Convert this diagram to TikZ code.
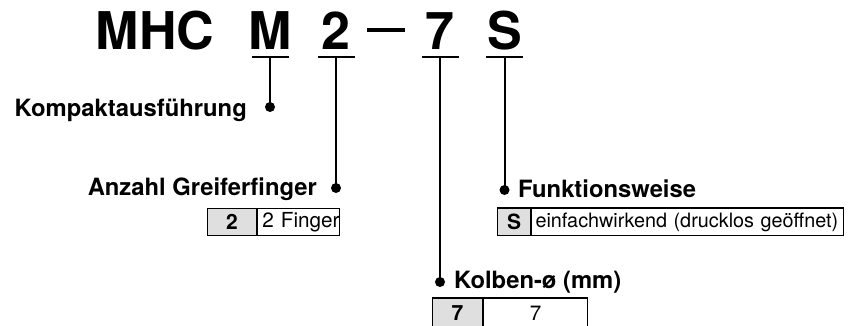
\documentclass[tikz,border=0pt]{standalone}
\usepackage{fontspec}
\setmainfont{TeX Gyre Heros}
\usetikzlibrary{positioning}

\begin{document}
\begin{tikzpicture}[
    x=1pt, y=-1pt,
    code/.style={font=\fontsize{52}{52}\selectfont\bfseries, inner sep=0pt, anchor=base},
    ubar/.style={fill=black, inner sep=0pt, minimum width=37pt, minimum height=2.2pt},
    dot/.style={circle, fill=black, inner sep=0pt, minimum size=10pt},
    lead/.style={line width=2pt},
    lbl/.style={font=\fontsize{23.8}{24}\selectfont\bfseries, inner sep=0pt},
    keycell/.style={rectangle, draw, line width=1pt, fill=gray!25, inner sep=0pt, minimum height=27pt, font=\fontsize{21}{21}\selectfont\bfseries},
    valcell/.style={rectangle, draw, line width=1pt, fill=white, inner ysep=0pt, minimum height=27pt, font=\fontsize{20.7}{21}\selectfont},
    topline/.style={line width=2pt}
]
\useasboundingbox (0,0) rectangle (850,326);
\clip (0,0) rectangle (850,326);

% type code
\node[code] (mhc) at (155,50) {MHC};
\node[code] (cM) at (270,50) {M};
\node[code] (c2) at (336,50) {2};
\node[fill=black, inner sep=0pt, minimum width=38pt, minimum height=3.5pt] (hy) at (386,30) {};
\node[code] (c7) at (440,50) {7};
\node[code] (cS) at (504.5,50) {S};

% underlines
\node[ubar] (uM) at (270,57) {};
\node[ubar] (u2) at (336,57) {};
\node[ubar] (u7) at (440,57) {};
\node[ubar] (uS) at (504.5,57) {};

% dots
\node[dot] (dM) at (270,107) {};
\node[dot] (d2) at (336,188) {};
\node[dot] (d7) at (440,282) {};
\node[dot] (dS) at (504.5,190) {};

\draw[lead] (uM.center) -- (dM.center);
\draw[lead] (u2.center) -- (d2.center);
\draw[lead] (u7.center) -- (d7.center);
\draw[lead] (uS.center) -- (dS.center);

% labels
\node[lbl, anchor=base east] (lM) at (247,117) {Kompaktausführung};
\node[lbl, anchor=base east] (l2) at (317,195) {Anzahl Greiferfinger};
\node[lbl, anchor=base west] (lS) at (518,197) {Funktionsweise};
\node[lbl, anchor=base west] (l7) at (454,288) {Kolben-ø (mm)};

% tables
\node[keycell, anchor=north west, minimum width=49pt] (k2) at (207,208) {2};
\node[valcell, right=0pt of k2, text width=79pt, inner xsep=1.5pt, align=left] (v2) {\mbox{\,2 Finger}};

\node[keycell, anchor=north west, minimum width=33pt] (kS) at (497,208) {S};
\node[valcell, right=0pt of kS, text width=304pt, inner xsep=4pt, align=left, font=\fontsize{19.8}{20}\selectfont] (vS) {\mbox{einfachwirkend (drucklos geöffnet)}};
\draw[topline] (kS.north west) -- (vS.north east);

\node[keycell, anchor=north west, minimum width=50pt, minimum height=30pt] (k7) at (432,298) {7};
\node[valcell, right=0pt of k7, minimum width=104pt, minimum height=30pt] (v7) {7};
\draw[topline] (k7.north west) -- (v7.north east);

\end{tikzpicture}
\end{document}
